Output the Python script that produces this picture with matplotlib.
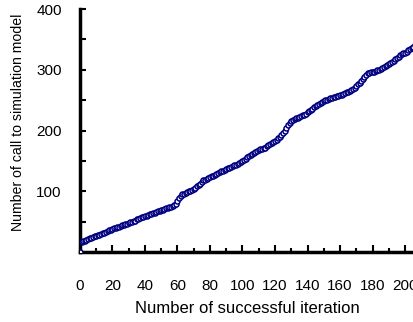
import numpy as np
import matplotlib
matplotlib.use("Agg")
import matplotlib.pyplot as plt
from matplotlib.ticker import MultipleLocator, FixedLocator

plt.rcParams.update({"font.family": "Liberation Sans", "font.size": 11})

# number of calls to the simulation model after each successful iteration
calls = [0,
         17, 18, 19, 20, 21, 23, 24, 25, 26, 27,
         28, 29, 30, 31, 32, 33, 35, 36, 37, 38,
         39, 40, 41, 42, 43, 44, 45, 46, 47, 48,
         49, 50, 51, 52, 54, 55, 56, 57, 58, 59,
         60, 61, 62, 63, 64, 65, 66, 67, 68, 69,
         70, 71, 72, 73, 74, 75, 76, 78, 80, 84,
         89, 93, 95, 96, 97, 99, 100, 101, 102, 104,
         106, 108, 110, 112, 115, 118, 119, 120, 122, 124,
         125, 126, 127, 128, 130, 132, 133, 134, 135, 137,
         138, 139, 140, 141, 143, 144, 145, 147, 148, 150,
         152, 154, 156, 158, 160, 162, 163, 164, 166, 168,
         169, 170, 171, 172, 174, 176, 178, 179, 181, 183,
         185, 187, 189, 192, 196, 200, 205, 209, 212, 215,
         217, 219, 220, 221, 222, 224, 225, 226, 228, 230,
         232, 234, 236, 238, 240, 242, 244, 246, 247, 249,
         250, 251, 252, 253, 254, 255, 256, 257, 257, 258,
         259, 260, 261, 263, 264, 265, 266, 268, 270, 273,
         276, 279, 282, 285, 288, 291, 294, 295, 296, 296,
         297, 298, 299, 300, 301, 303, 305, 306, 308, 309,
         311, 313, 315, 317, 319, 321, 324, 326, 327, 328,
         330, 332, 334, 336, 338, 340]
iters = np.arange(len(calls))

NAVY, DARKRED = "#000080", "#800000"

fig = plt.figure(figsize=(4.14, 3.22), dpi=100)
ax = fig.add_axes([0.193, 0.217, 0.807, 0.755])
ax.plot(iters, calls, color=DARKRED, lw=1, zorder=2, clip_on=False)
ax.plot(iters, calls, ls="none", marker="o", ms=3.6, mfc="white", mec=NAVY,
        mew=1.1, zorder=3)

ax.set_xlim(0, 205.5)
ax.set_ylim(0, 400)
ax.spines["top"].set_visible(False)
ax.spines["right"].set_visible(False)
ax.spines["left"].set_linewidth(2.5)
ax.spines["bottom"].set_linewidth(2.5)

ax.xaxis.set_major_locator(MultipleLocator(20))
ax.xaxis.set_minor_locator(MultipleLocator(10))
ax.yaxis.set_major_locator(FixedLocator([100, 200, 300, 400]))
ax.yaxis.set_minor_locator(FixedLocator([50, 150, 250, 350]))
ax.tick_params(axis="x", which="major", direction="in", length=5, width=1.5, pad=19)
ax.tick_params(axis="x", which="minor", direction="in", length=3, width=1.5)
ax.tick_params(axis="y", which="major", direction="in", length=4, width=1.5, pad=13)
ax.tick_params(axis="y", which="minor", direction="in", length=4, width=1.5)

ax.set_xlabel("Number of successful iteration", fontsize=12, labelpad=6)
ax.set_ylabel("Number of call to simulation model", fontsize=10.2)
ax.yaxis.set_label_coords(-0.165, 0.535)

fig.savefig("out.png", dpi=100)
